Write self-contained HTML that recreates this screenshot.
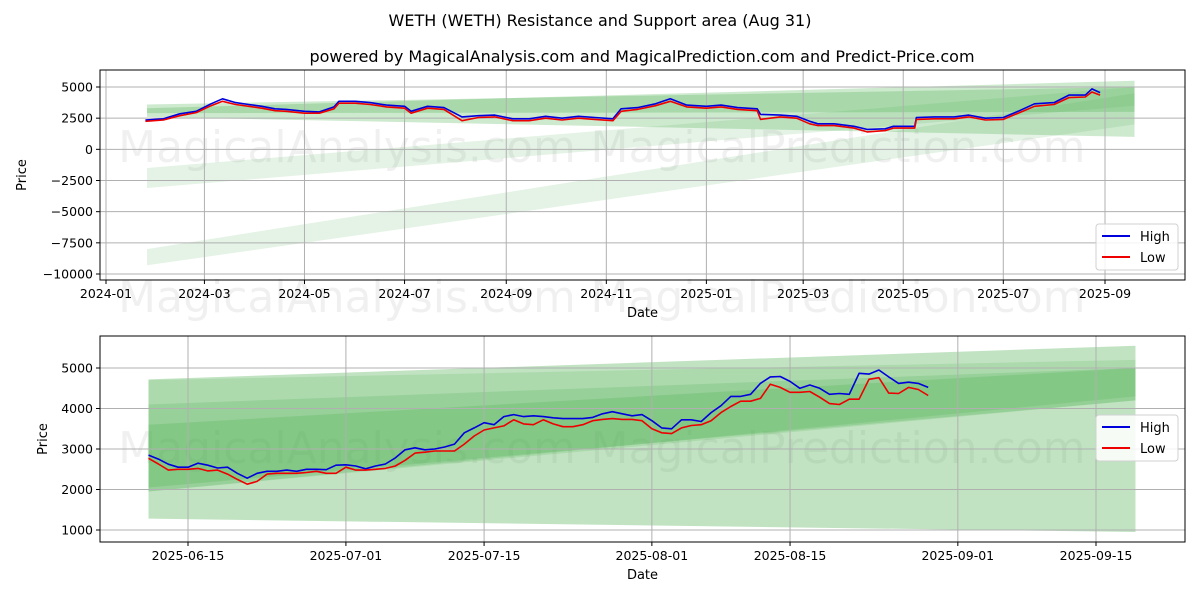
<!DOCTYPE html>
<html><head><meta charset="utf-8">
<style>
body{margin:0;background:#fff;}
svg{display:block;font-family:"DejaVu Sans","Liberation Sans",sans-serif;}
</style></head>
<body>
<svg id="chart" width="1200" height="600" viewBox="0 0 1200 600" xmlns="http://www.w3.org/2000/svg">
<rect x="0" y="0" width="1200" height="600" fill="#fff"/>
<text x="600" y="26" text-anchor="middle" font-size="16" fill="#000">WETH (WETH) Resistance and Support area (Aug 31)</text>
<text x="642" y="62" text-anchor="middle" font-size="16" fill="#000">powered by MagicalAnalysis.com and MagicalPrediction.com and Predict-Price.com</text>
<g id="top"></g>
<g id="bot"></g>
</svg>
<script>
// ---- Top chart data ----
const topDates = ["2024-01-25","2024-02-05","2024-02-15","2024-02-25","2024-03-05","2024-03-12","2024-03-20","2024-03-28","2024-04-05","2024-04-13","2024-04-20","2024-05-01","2024-05-10","2024-05-19","2024-05-22","2024-06-01","2024-06-10","2024-06-20","2024-07-01","2024-07-05","2024-07-15","2024-07-25","2024-08-05","2024-08-15","2024-08-25","2024-09-05","2024-09-15","2024-09-25","2024-10-05","2024-10-15","2024-10-25","2024-11-05","2024-11-10","2024-11-20","2024-12-01","2024-12-10","2024-12-20","2025-01-01","2025-01-10","2025-01-20","2025-02-01","2025-02-03","2025-02-15","2025-02-25","2025-03-05","2025-03-10","2025-03-20","2025-04-01","2025-04-09","2025-04-20","2025-04-25","2025-05-08","2025-05-09","2025-05-20","2025-06-01","2025-06-10","2025-06-20","2025-07-01","2025-07-10","2025-07-20","2025-08-01","2025-08-10","2025-08-20","2025-08-24","2025-08-29"];
const topHigh = [2350,2450,2850,3050,3650,4050,3750,3600,3450,3250,3200,3050,3000,3400,3850,3850,3750,3550,3450,3050,3450,3350,2600,2700,2750,2450,2450,2650,2500,2650,2550,2450,3250,3350,3650,4050,3550,3450,3550,3350,3250,2800,2750,2650,2250,2050,2050,1850,1600,1650,1850,1850,2550,2600,2600,2750,2500,2550,3050,3650,3750,4350,4350,4850,4550];
const topLow  = [2250,2350,2700,2950,3500,3850,3600,3450,3300,3100,3050,2900,2900,3250,3700,3700,3600,3400,3300,2900,3300,3200,2300,2550,2600,2300,2300,2500,2350,2500,2400,2300,3050,3200,3500,3850,3400,3300,3400,3200,3100,2400,2600,2500,2050,1900,1900,1700,1400,1500,1700,1700,2400,2450,2450,2600,2350,2400,2900,3450,3600,4150,4200,4600,4350];
const topYTicks = [5000,2500,0,-2500,-5000,-7500,-10000];
const topYTickLabels = ["5000","2500","0","−2500","−5000","−7500","−10000"];
const topXTicks = ["2024-01-01","2024-03-01","2024-05-01","2024-07-01","2024-09-01","2024-11-01","2025-01-01","2025-03-01","2025-05-01","2025-07-01","2025-09-01"];
const topXTickLabels = ["2024-01","2024-03","2024-05","2024-07","2024-09","2024-11","2025-01","2025-03","2025-05","2025-07","2025-09"];
const topBandDates = ["2024-01-26","2025-09-19"];
const topBandLeftTop = [3600,3300,-1500,-8000];
const topBandLeftBot = [2600,2900,-3100,-9300];
const topBandRightTop = [5000,5500,5000,4500];
const topBandRightBot = [1000,3000,3500,2000];
const topBandAlpha = [0.28,0.28,0.15,0.15];

// ---- Bottom chart data ----
const botStart = "2025-06-11";
const botHigh = [2850,2750,2625,2550,2550,2650,2600,2530,2550,2400,2280,2400,2450,2450,2480,2450,2500,2500,2490,2600,2610,2580,2510,2580,2630,2780,2980,3030,2980,3000,3050,3120,3400,3520,3650,3600,3800,3850,3800,3820,3800,3770,3750,3750,3750,3780,3870,3920,3870,3820,3850,3700,3520,3500,3720,3720,3680,3900,4070,4300,4300,4350,4620,4780,4790,4670,4500,4580,4500,4350,4370,4350,4870,4850,4950,4780,4620,4650,4620,4520];
const botLow = [2770,2630,2480,2500,2500,2520,2460,2480,2380,2250,2130,2200,2380,2400,2400,2400,2420,2450,2400,2400,2550,2480,2480,2500,2520,2580,2720,2900,2920,2950,2950,2950,3120,3320,3470,3520,3570,3720,3620,3600,3720,3620,3550,3550,3600,3700,3730,3750,3730,3730,3700,3500,3400,3380,3520,3580,3600,3700,3900,4050,4180,4180,4250,4600,4520,4400,4400,4420,4280,4120,4100,4230,4230,4720,4760,4380,4370,4520,4470,4320];
const botYTicks = [5000,4000,3000,2000,1000];
const botXTicks = ["2025-06-15","2025-07-01","2025-07-15","2025-08-01","2025-08-15","2025-09-01","2025-09-15"];
const botBandDates = ["2025-06-11","2025-09-19"];
const botBandLeftTop = [4720,4700,4100,3600];
const botBandLeftBot = [1280,1950,1950,2050];
const botBandRightTop = [5550,5200,5000,5000];
const botBandRightBot = [950,4200,4300,4200];
const botBandAlpha = [0.35,0.18,0.22,0.25];

const NS="http://www.w3.org/2000/svg";
function el(tag,attrs,parent){const e=document.createElementNS(NS,tag);for(const k in attrs)e.setAttribute(k,attrs[k]);parent.appendChild(e);return e;}
function dnum(s){return Date.parse(s+"T00:00:00Z")/86400000;}

function panel(g,box,xDomain,yDomain){
  const xs=d=>box.x0+(dnum(d)-xDomain[0])/(xDomain[1]-xDomain[0])*(box.x1-box.x0);
  const ys=v=>box.y1-(v-yDomain[0])/(yDomain[1]-yDomain[0])*(box.y1-box.y0);
  return {xs,ys};
}

function drawWatermark(g,y){
  const t1=el('text',{x:347,y:y,'text-anchor':'middle','font-size':44,fill:'#000','fill-opacity':0.06},g);
  
  
  t1.textContent="MagicalAnalysis.com";
  const t2=el('text',{x:838,y:y,'text-anchor':'middle','font-size':44,fill:'#000','fill-opacity':0.06},g);
  
  
  t2.textContent="MagicalPrediction.com";
}

function drawChart(g,box,sc,opts){
  for(let i=0;i<opts.bLT.length;i++){
    const xa=sc.xs(opts.bDates[0]),xb=sc.xs(opts.bDates[1]);
    const p=el('polygon',{points:`${xa},${sc.ys(opts.bLT[i])} ${xb},${sc.ys(opts.bRT[i])} ${xb},${sc.ys(opts.bRB[i])} ${xa},${sc.ys(opts.bLB[i])}`,fill:'#4caf50','fill-opacity':opts.bA[i]},g);
    
    
  }
  opts.yTicks.forEach((v,i)=>{
    const y=sc.ys(v);
    const l=el('line',{x1:box.x0,x2:box.x1,y1:y,y2:y,stroke:'#b0b0b0','stroke-width':1},g);
    
    
    el('line',{x1:box.x0-4,x2:box.x0,y1:y,y2:y,stroke:'#000'},g);
    const t=el('text',{x:box.x0-7,y:y+4.5,'text-anchor':'end','font-size':12.5,fill:'#000'},g);
    
    
    t.textContent=opts.yLabels[i];
  });
  opts.xTicks.forEach((d,i)=>{
    const x=sc.xs(d);
    const l=el('line',{x1:x,x2:x,y1:box.y0,y2:box.y1,stroke:'#b0b0b0','stroke-width':1},g);
    
    
    el('line',{x1:x,x2:x,y1:box.y1,y2:box.y1+4,stroke:'#000'},g);
    const t=el('text',{x:x,y:box.y1+18,'text-anchor':'middle','font-size':12.5,fill:'#000'},g);
    
    
    t.textContent=opts.xLabels[i];
  });
  const mk=(vals,dates,color,name)=>{
    const pts=vals.map((v,i)=>sc.xs(dates[i]).toFixed(1)+","+sc.ys(v).toFixed(1)).join(" ");
    const pl=el('polyline',{points:pts,fill:'none',stroke:color,'stroke-width':1.6,'stroke-linejoin':'round'},g);
    
    
  };
  mk(opts.high,opts.dates,'#0000dd','high-line');
  mk(opts.low,opts.dates,'#ee0000','low-line');
  const fr=el('rect',{x:box.x0,y:box.y0,width:box.x1-box.x0,height:box.y1-box.y0,fill:'none',stroke:'#000','stroke-width':1},g);
  
  
  const xt=el('text',{x:(box.x0+box.x1)/2,y:box.y1+37,'text-anchor':'middle','font-size':13,fill:'#000'},g);
  
  
  xt.textContent="Date";
  const cy=(box.y0+box.y1)/2;
  const yt=el('text',{x:opts.yTitleX,y:cy,'text-anchor':'middle','font-size':13,fill:'#000',transform:`rotate(-90 ${opts.yTitleX} ${cy})`},g);
  
  
  yt.textContent="Price";
  const lg=el('g',{},g);
  
  
  const ly=opts.legendY;
  el('rect',{x:1096,y:ly,width:82,height:46,rx:3,fill:'#fff','fill-opacity':0.85,stroke:'#d0d0d0'},lg);
  [['High','#0000dd'],['Low','#ee0000']].forEach((e,i)=>{
    const en=el('g',{},lg);
    
    
    el('line',{x1:1102,x2:1130,y1:ly+12+i*21,y2:ly+12+i*21,stroke:e[1],'stroke-width':2},en);
    const t=el('text',{x:1140,y:ly+17+i*21,'font-size':13,fill:'#000'},en);
    t.textContent=e[0];
  });
}

const tg=document.getElementById('top');
const tBox={x0:100,x1:1185,y0:70,y1:280};
const tx0=dnum("2024-01-01"),tx1=dnum("2025-09-01");
const tdx=(tx1-tx0)/(1105-106);
const tsc=panel(tg,tBox,[tx0-(106-100)*tdx,tx1+(1185-1105)*tdx],[-10000-(280-274)*15000/187,5000+(87-70)*15000/187]);
drawWatermark(tg,162);
drawChart(tg,tBox,tsc,{bDates:topBandDates,bLT:topBandLeftTop,bLB:topBandLeftBot,bRT:topBandRightTop,bRB:topBandRightBot,bA:topBandAlpha,
  yTicks:topYTicks,yLabels:topYTickLabels,xTicks:topXTicks,xLabels:topXTickLabels,high:topHigh,low:topLow,dates:topDates,yTitleX:26,legendY:224});
drawWatermark(tg,312);

const bg=document.getElementById('bot');
const bBox={x0:100,x1:1185,y0:336,y1:542};
const bx0=dnum("2025-06-15"),bx1=dnum("2025-09-15");
const bdx=(bx1-bx0)/(1096-188);
const bsc=panel(bg,bBox,[bx0-(188-100)*bdx,bx1+(1185-1096)*bdx],[1000-(542-530)*4000/162,5000+(368-336)*4000/162]);
const botDates=botHigh.map((_,i)=>{const d=new Date((dnum(botStart)+i)*86400000);return d.toISOString().slice(0,10);});
drawWatermark(bg,463);
drawChart(bg,bBox,bsc,{bDates:botBandDates,bLT:botBandLeftTop,bLB:botBandLeftBot,bRT:botBandRightTop,bRB:botBandRightBot,bA:botBandAlpha,
  yTicks:botYTicks,yLabels:botYTicks.map(String),xTicks:botXTicks,xLabels:botXTicks,high:botHigh,low:botLow,dates:botDates,yTitleX:47,legendY:415});
</script>
</body></html>
